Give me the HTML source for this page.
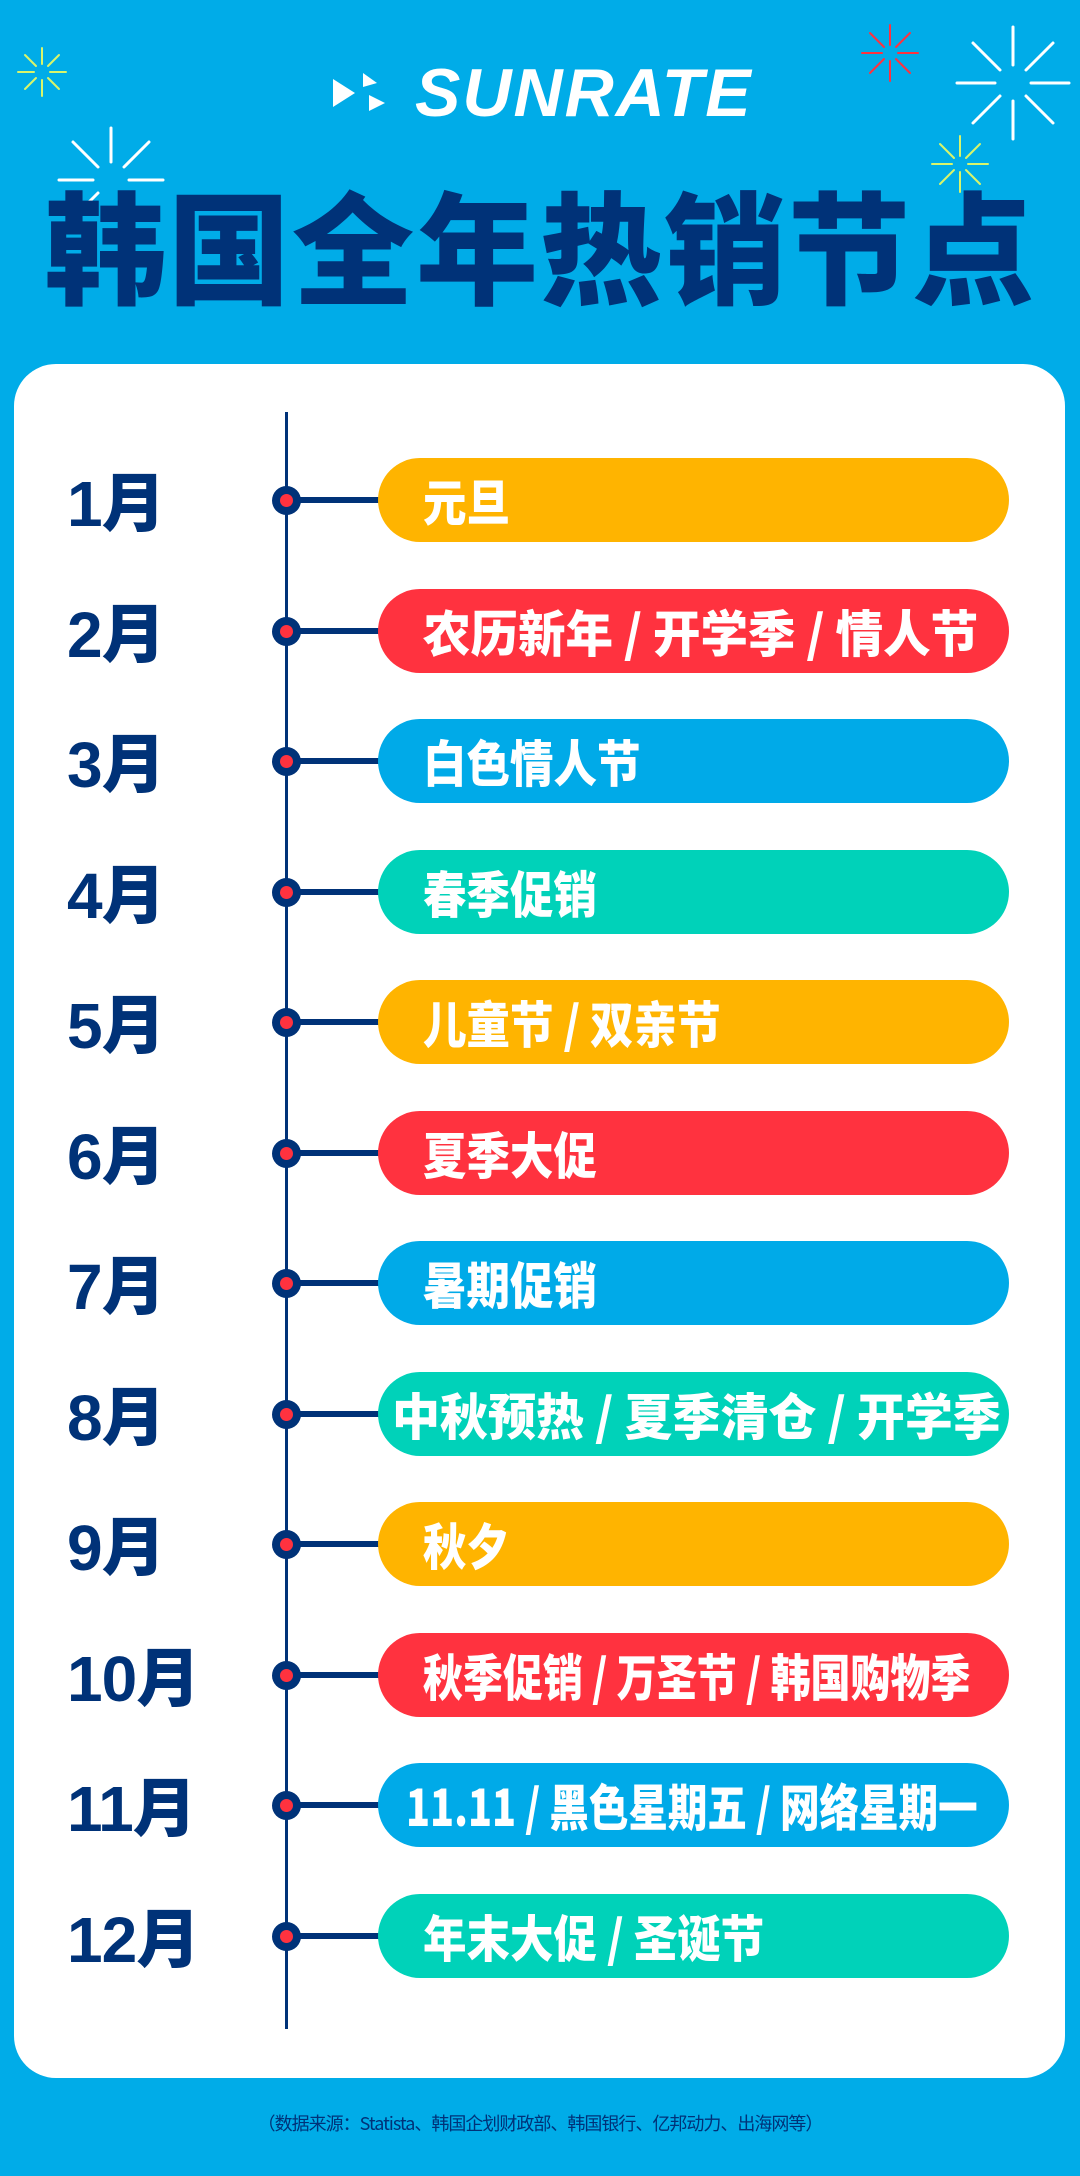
<!DOCTYPE html>
<html><head><meta charset="utf-8"><style>
*{margin:0;padding:0;box-sizing:border-box}
body{width:1080px;height:2176px;background:#00ace8;position:relative;overflow:hidden;font-family:"Liberation Sans","Noto Sans CJK SC",sans-serif}
.logo{position:absolute;left:333px;top:58px;height:70px;display:flex;align-items:center}
.logo span{font-family:"Liberation Sans",sans-serif;font-weight:bold;font-style:italic;font-size:68px;color:#fff;letter-spacing:2px;margin-left:22px}
.title{position:absolute;left:0;width:1080px;top:178px;text-align:center;font-family:"Noto Sans CJK SC",sans-serif;font-weight:900;font-size:122px;line-height:130px;color:#003278;letter-spacing:2px}
.card{position:absolute;left:14px;top:364px;width:1051px;height:1714px;background:#fff;border-radius:42px}
.vline{position:absolute;left:285px;top:412px;width:3px;height:1617px;background:#003278}
.row{position:absolute;left:0;width:1080px;height:84px}
.m{position:absolute;left:67px;top:4px;height:84px;line-height:84px;font-family:"Liberation Sans","Noto Sans CJK SC",sans-serif;font-weight:900;font-size:64px;color:#003278;letter-spacing:-1px}
.dot{position:absolute;left:272px;top:28px;width:29px;height:29px;border-radius:50%;background:#003278}
.dot:after{content:"";position:absolute;left:8px;top:8px;width:13px;height:13px;border-radius:50%;background:#ff323f}
.con{position:absolute;left:295px;top:39px;width:85px;height:6px;background:#003278}
.pill{position:absolute;left:378px;top:0;width:631px;height:84px;border-radius:42px;line-height:84px;padding-left:45px;color:#fff;font-family:"Noto Sans CJK SC",sans-serif;font-weight:900;font-size:50px;white-space:nowrap;overflow:hidden}
.pill span{display:inline-block;transform:scaleX(0.87);transform-origin:left center}
.y{background:#ffb400}.r{background:#ff323f}.b{background:#00aae8}.t{background:#00d2b9}
.foot{position:absolute;left:0;width:1080px;top:2110px;text-align:center;font-family:"Noto Sans CJK SC",sans-serif;font-size:18px;color:#003278;letter-spacing:-1px}
</style></head><body>
<svg style="position:absolute;left:0;top:0" width="1080" height="330">
<g stroke="#d9f56a" stroke-width="2" stroke-linecap="round">
<g transform="translate(42,72)"><line x1="0" y1="-8" x2="0" y2="-24"/><line x1="0" y1="8" x2="0" y2="24"/><line x1="-8" y1="0" x2="-24" y2="0"/><line x1="8" y1="0" x2="24" y2="0"/><line x1="6" y1="6" x2="17" y2="17"/><line x1="-6" y1="-6" x2="-17" y2="-17"/><line x1="6" y1="-6" x2="17" y2="-17"/><line x1="-6" y1="6" x2="-17" y2="17"/></g>
<g transform="translate(960,164)"><line x1="0" y1="-8" x2="0" y2="-28"/><line x1="0" y1="8" x2="0" y2="28"/><line x1="-8" y1="0" x2="-28" y2="0"/><line x1="8" y1="0" x2="28" y2="0"/><line x1="6" y1="6" x2="20" y2="20"/><line x1="-6" y1="-6" x2="-20" y2="-20"/><line x1="6" y1="-6" x2="20" y2="-20"/><line x1="-6" y1="6" x2="-20" y2="20"/></g>
</g>
<g stroke="#ff323f" stroke-width="2" stroke-linecap="round" transform="translate(890,53)"><line x1="0" y1="-8" x2="0" y2="-28"/><line x1="0" y1="8" x2="0" y2="28"/><line x1="-8" y1="0" x2="-28" y2="0"/><line x1="8" y1="0" x2="28" y2="0"/><line x1="6" y1="6" x2="20" y2="20"/><line x1="-6" y1="-6" x2="-20" y2="-20"/><line x1="6" y1="-6" x2="20" y2="-20"/><line x1="-6" y1="6" x2="-20" y2="20"/></g>
<g stroke="#fff" stroke-width="3" stroke-linecap="round">
<g transform="translate(1013,83)"><line x1="0" y1="-18" x2="0" y2="-56"/><line x1="0" y1="18" x2="0" y2="56"/><line x1="-18" y1="0" x2="-56" y2="0"/><line x1="18" y1="0" x2="56" y2="0"/><line x1="13" y1="13" x2="40" y2="40"/><line x1="-13" y1="-13" x2="-40" y2="-40"/><line x1="13" y1="-13" x2="40" y2="-40"/><line x1="-13" y1="13" x2="-40" y2="40"/></g>
<g transform="translate(111,180)"><line x1="0" y1="-18" x2="0" y2="-52"/><line x1="-18" y1="0" x2="-52" y2="0"/><line x1="18" y1="0" x2="52" y2="0"/><line x1="13" y1="-13" x2="38" y2="-38"/><line x1="-13" y1="-13" x2="-38" y2="-38"/><line x1="-13" y1="13" x2="-30" y2="30"/></g>
</g>
</svg>
<div class="logo"><svg width="60" height="40"><polygon points="0,6 22,20 0,34" fill="#fff"/><polygon points="30,0 44,10 30,14" fill="#fff"/><polygon points="36,22 52,30 36,38" fill="#fff"/></svg><span>SUNRATE</span></div>
<div class="title">韩国全年热销节点</div>
<div class="card"></div>
<div class="vline"></div>

<div class="row" style="top:458px"><div class="m">1月</div><div class="dot"></div><div class="con"></div><div class="pill y"><span>元旦</span></div></div>
<div class="row" style="top:589px"><div class="m">2月</div><div class="dot"></div><div class="con"></div><div class="pill r"><span style="transform:scaleX(0.95)">农历新年 / 开学季 / 情人节</span></div></div>
<div class="row" style="top:719px"><div class="m">3月</div><div class="dot"></div><div class="con"></div><div class="pill b"><span>白色情人节</span></div></div>
<div class="row" style="top:850px"><div class="m">4月</div><div class="dot"></div><div class="con"></div><div class="pill t"><span>春季促销</span></div></div>
<div class="row" style="top:980px"><div class="m">5月</div><div class="dot"></div><div class="con"></div><div class="pill y"><span>儿童节 / 双亲节</span></div></div>
<div class="row" style="top:1111px"><div class="m">6月</div><div class="dot"></div><div class="con"></div><div class="pill r"><span>夏季大促</span></div></div>
<div class="row" style="top:1241px"><div class="m">7月</div><div class="dot"></div><div class="con"></div><div class="pill b"><span>暑期促销</span></div></div>
<div class="row" style="top:1372px"><div class="m">8月</div><div class="dot"></div><div class="con"></div><div class="pill t" style="padding-left:14px"><span style="transform:scaleX(0.96)">中秋预热 / 夏季清仓 / 开学季</span></div></div>
<div class="row" style="top:1502px"><div class="m">9月</div><div class="dot"></div><div class="con"></div><div class="pill y"><span>秋夕</span></div></div>
<div class="row" style="top:1633px"><div class="m">10月</div><div class="dot"></div><div class="con"></div><div class="pill r"><span style="transform:scaleX(0.8)">秋季促销 / 万圣节 / 韩国购物季</span></div></div>
<div class="row" style="top:1763px"><div class="m">11月</div><div class="dot"></div><div class="con"></div><div class="pill b" style="padding-left:28px"><span style="transform:scaleX(0.79)">11.11 / 黑色星期五 / 网络星期一</span></div></div>
<div class="row" style="top:1894px"><div class="m">12月</div><div class="dot"></div><div class="con"></div><div class="pill t"><span>年末大促 / 圣诞节</span></div></div>

<div class="foot">（数据来源：Statista、韩国企划财政部、韩国银行、亿邦动力、出海网等）</div>
</body></html>
